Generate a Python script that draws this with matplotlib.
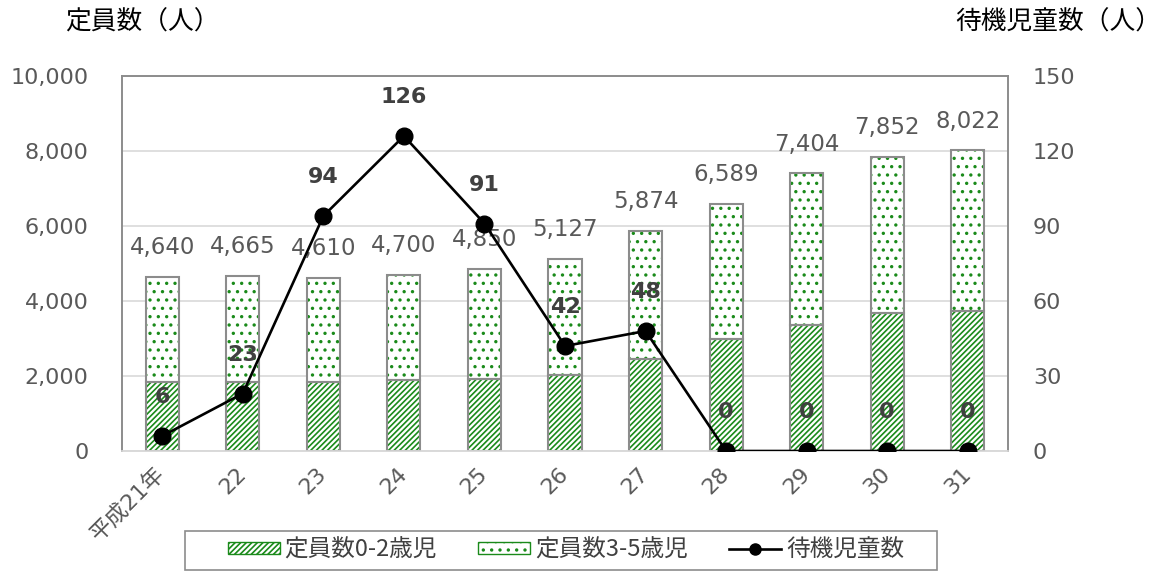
import matplotlib
matplotlib.use("Agg")
import matplotlib.pyplot as plt
import numpy as np
from matplotlib.patches import Patch, Rectangle
from matplotlib.lines import Line2D

plt.rcParams['font.family'] = ['DejaVu Sans', 'Noto Sans CJK JP']
plt.rcParams['hatch.linewidth'] = 1.2

categories = ['平成21年', '22', '23', '24', '25', '26', '27', '28', '29', '30', '31']
cap_0_2 = [1850, 1850, 1850, 1890, 1930, 2040, 2450, 3000, 3360, 3670, 3725]
cap_total = [4640, 4665, 4610, 4700, 4850, 5127, 5874, 6589, 7404, 7852, 8022]
waiting = [6, 23, 94, 126, 91, 42, 48, 0, 0, 0, 0]

cap_3_5 = [t - a for t, a in zip(cap_total, cap_0_2)]

fig = plt.figure(figsize=(11.63, 5.71), dpi=100)
ax = fig.add_axes([122/1163, 1 - 451/571, (1008-122)/1163, (451-76)/571])
ax2 = ax.twinx()

x = np.arange(len(categories))
w = 0.41
green = '#1a8a1a'
grey = '#8c8c8c'
tick_col = '#595959'

ax.bar(x, cap_0_2, w, color='white', edgecolor=green, hatch='//////', linewidth=0, zorder=2)
ax.bar(x, cap_3_5, w, bottom=cap_0_2, color='white', edgecolor=green, hatch='..', linewidth=0, zorder=2)
ax.bar(x, cap_0_2, w, color='none', edgecolor=grey, linewidth=1.5, zorder=3)
ax.bar(x, cap_3_5, w, bottom=cap_0_2, color='none', edgecolor=grey, linewidth=1.5, zorder=3)

for xi, t in zip(x, cap_total):
    ax.annotate(f'{t:,}', (xi, t), xytext=(0, 21), textcoords='offset points',
                ha='center', va='center', fontsize=16.5, color=tick_col, zorder=5)

ax.set_ylim(0, 10000)
ax.set_yticks(np.arange(0, 10001, 2000))
ax.set_yticklabels([f'{v:,}' for v in range(0, 10001, 2000)])
ax.set_xlim(-0.5, len(categories) - 0.5)
ax.set_xticks(x)
ax.set_xticklabels(categories, rotation=45, ha='right', va='center', rotation_mode='anchor')
ax.grid(axis='y', color='#d9d9d9', linewidth=1.2, zorder=0)
ax.set_axisbelow(True)

ax2.plot(x, waiting, color='black', linewidth=1.9, marker='o', markersize=12, zorder=6)
for xi, v in zip(x, waiting):
    ax2.annotate(str(v), (xi, v), xytext=(0, 28), textcoords='offset points',
                 ha='center', va='center', fontsize=16, fontweight='bold', color='#404040')
ax2.set_ylim(0, 150)
ax2.set_yticks(np.arange(0, 151, 30))
ax2.set_zorder(ax.get_zorder() + 1)
ax2.patch.set_visible(False)

for a in (ax, ax2):
    a.tick_params(axis='both', length=0, labelsize=16, colors=tick_col)
    for s in a.spines.values():
        s.set_color(grey)
        s.set_linewidth(1.2)
ax.spines['bottom'].set_color('#d9d9d9')
ax2.spines['bottom'].set_color('#d9d9d9')
ax.tick_params(axis='y', pad=24)
ax2.tick_params(axis='y', pad=18)
ax.tick_params(axis='x', pad=14)

fig.text(65/1163, 1 - 23/571, '定員数（人）', fontsize=18.5, color='#000000', va='center', ha='left',
         family=['Noto Sans CJK JP'])
fig.text(1161/1163, 1 - 23/571, '待機児童数（人）', fontsize=18.5, color='#000000', va='center', ha='right',
         family=['Noto Sans CJK JP'])

handles = [
    Patch(facecolor='white', edgecolor=green, hatch='//////', label='定員数0-2歳児'),
    Patch(facecolor='white', edgecolor=green, hatch='..', label='定員数3-5歳児'),
    Line2D([0], [0], color='black', linewidth=1.9, marker='o', markersize=8, label='待機児童数'),
]
leg = fig.legend(handles=handles, loc='center', bbox_to_anchor=(566/1163, 1 - 550/571),
                 ncol=3, frameon=False,
                 prop={'family': ['Noto Sans CJK JP'], 'size': 17},
                 handlelength=2.2, handleheight=0.45, columnspacing=1.75, handletextpad=0.2,
                 borderpad=0.1, borderaxespad=0)
for t in leg.get_texts():
    t.set_color('#404040')
fig.patches.append(Rectangle((185/1163, 1 - 570/571), (937-185)/1163, 39/571,
                             transform=fig.transFigure, facecolor='none', edgecolor=grey,
                             linewidth=1.2))

fig.savefig('out.png', dpi=100)
